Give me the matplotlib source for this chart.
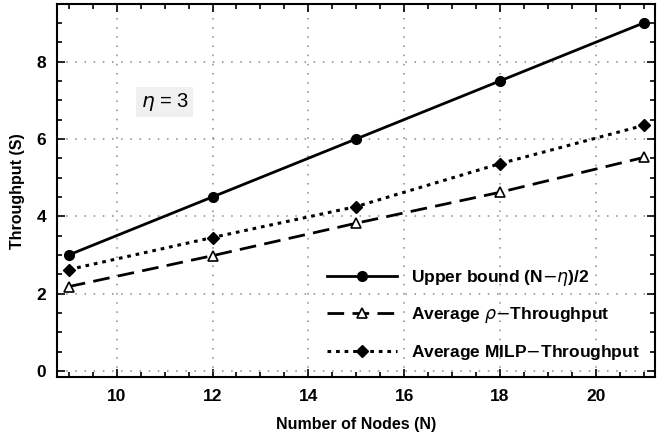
import numpy as np
import matplotlib.pyplot as plt
from matplotlib.ticker import MultipleLocator

plt.rcParams['font.family'] = ['Liberation Sans', 'DejaVu Sans']

nodes = [9, 12, 15, 18, 21]
upper_bound = [3.0, 4.5, 6.0, 7.5, 9.0]
rho_tp = [2.18, 2.98, 3.82, 4.62, 5.52]
milp_tp = [2.62, 3.45, 4.25, 5.36, 6.35]

fig = plt.figure(figsize=(6.59, 4.43), dpi=100)
ax = fig.add_axes([0.087, 0.148, 0.907, 0.842])

ax.plot(nodes, upper_bound, '-', color='black', lw=2, marker='o', ms=7,
        label=r'Upper bound (N$-\eta$)/2')
ax.plot(nodes, rho_tp, color='black', lw=2, dashes=(6, 3), marker='^', ms=7,
        mfc='white', mew=1.2, label=r'Average $\rho$$-$Throughput')
ax.plot(nodes, milp_tp, color='black', lw=2.2, dashes=(1.2, 1.6), marker='D', ms=6,
        label='Average MILP$-$Throughput')

ax.set_xlim(8.76, 21.24)
ax.set_ylim(-0.17, 9.48)
ax.xaxis.set_major_locator(MultipleLocator(2))
ax.xaxis.set_minor_locator(MultipleLocator(0.5))
ax.yaxis.set_major_locator(MultipleLocator(2))
ax.yaxis.set_minor_locator(MultipleLocator(0.5))
ax.tick_params(which='both', direction='in', top=True, right=True, width=1.2)
ax.tick_params(which='major', length=6, labelsize=12.5, pad=8)
ax.tick_params(which='minor', length=3.5)
for lbl in ax.get_xticklabels() + ax.get_yticklabels():
    lbl.set_fontweight('bold')
for s in ax.spines.values():
    s.set_linewidth(1.5)

ax.grid(True, which='major', color='#888888', ls=(0, (1, 5)), lw=1.1)

ax.set_xlabel('Number of Nodes (N)', fontsize=11.5, fontweight='bold', labelpad=10)
ax.set_ylabel('Throughput (S)', fontsize=11.5, fontweight='bold', labelpad=8)

ax.text(11.0, 6.95, r'$\eta$ = 3', fontsize=14.5, ha='center', va='center',
        bbox=dict(facecolor='#f0f0f0', edgecolor='none', pad=3))

leg = ax.legend(loc='lower right', frameon=False, prop={'weight': 'bold', 'size': 12.5},
                handlelength=4, labelspacing=1.0, bbox_to_anchor=(1.0, 0.0))

fig.savefig('out.png', dpi=100)
